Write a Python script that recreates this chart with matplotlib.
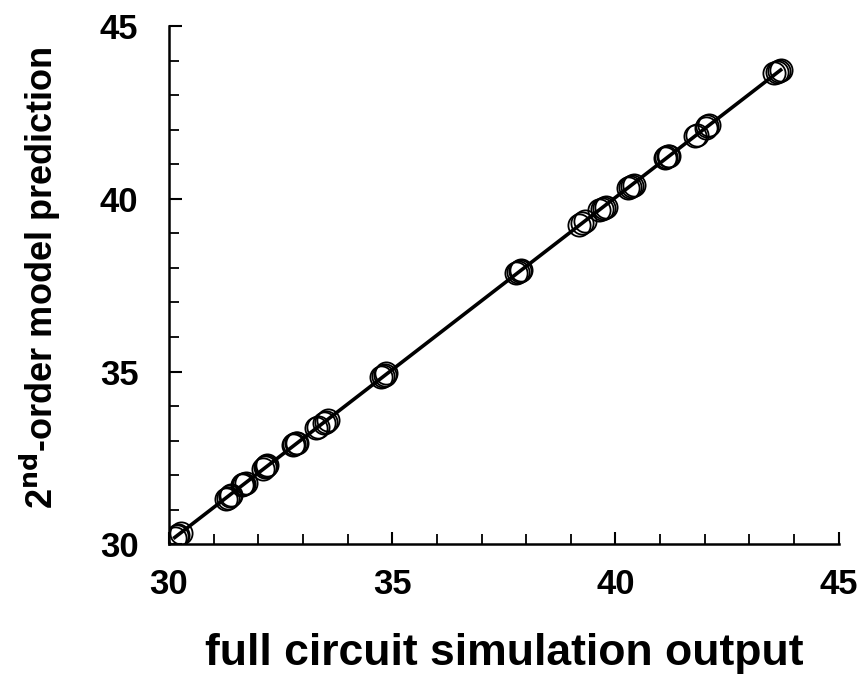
import numpy as np
from matplotlib import pyplot as plt
from matplotlib.ticker import MultipleLocator

plt.rcParams['font.family'] = ['Liberation Sans', 'DejaVu Sans']
plt.rcParams['font.weight'] = 'bold'

# full circuit simulation output vs 2nd-order model prediction
sim = [30.13, 30.17, 30.21, 30.26,
       31.28, 31.32, 31.36, 31.40,
       31.63, 31.66, 31.69, 31.72,
       32.10, 32.14, 32.17, 32.20,
       32.78, 32.81, 32.84, 32.86,
       33.29, 33.34, 33.48, 33.52, 33.56,
       34.76, 34.80, 34.84, 34.87,
       37.78, 37.82, 37.86, 37.89,
       39.19, 39.26, 39.32,
       39.64, 39.69, 39.74, 39.79,
       40.28, 40.33, 40.38, 40.42,
       41.10, 41.14, 41.18, 41.21,
       41.77, 41.83, 42.02, 42.06, 42.10,
       43.56, 43.61, 43.66, 43.70]
pred = [30.19, 30.23, 30.27, 30.31,
        31.32, 31.35, 31.38, 31.41,
        31.71, 31.73, 31.75, 31.77,
        32.19, 32.22, 32.26, 32.29,
        32.87, 32.89, 32.92, 32.94,
        33.35, 33.39, 33.50, 33.55, 33.59,
        34.83, 34.87, 34.91, 34.95,
        37.85, 37.88, 37.91, 37.94,
        39.25, 39.30, 39.35,
        39.68, 39.71, 39.75, 39.78,
        40.31, 40.34, 40.38, 40.41,
        41.18, 41.21, 41.23, 41.25,
        41.81, 41.86, 42.06, 42.10, 42.14,
        43.64, 43.67, 43.71, 43.74]

sim = np.array(sim)
pred = np.array(pred)

fig = plt.figure(figsize=(8.62, 6.94), dpi=100)
ax = fig.add_axes([0.196, 0.216, 0.777, 0.746])

coef = np.polyfit(sim, pred, 1)
xl = np.array([sim.min(), sim.max()])
ax.plot(xl, np.polyval(coef, xl), color='black', lw=2.6, zorder=3)
ax.plot(sim, pred, 'o', ms=16, mfc='none', mec='black', mew=1.3, zorder=2)

ax.set_xlim(30, 45)
ax.set_ylim(30, 45)
ax.xaxis.set_major_locator(MultipleLocator(5))
ax.yaxis.set_major_locator(MultipleLocator(5))
ax.xaxis.set_minor_locator(MultipleLocator(1))
ax.yaxis.set_minor_locator(MultipleLocator(1))

for s in ['top', 'right']:
    ax.spines[s].set_visible(False)
for s in ['left', 'bottom']:
    ax.spines[s].set_linewidth(1.8)
    ax.spines[s].set_clip_on(False)

ax.tick_params(which='major', direction='in', length=9, width=1.5,
               labelsize=25)
ax.tick_params(which='minor', direction='in', length=7, width=1.3)
ax.tick_params(axis='x', which='major', pad=17)
ax.tick_params(axis='y', which='major', pad=22)
for lab in ax.get_xticklabels() + ax.get_yticklabels():
    lab.set_fontweight('bold')

ax.set_xlabel('full circuit simulation output', fontsize=32,
              fontweight='bold')
ax.set_ylabel(r'2$^{\mathbf{nd}}$-order model prediction', fontsize=26,
              fontweight='bold')
ax.xaxis.set_label_coords(0.5, -0.172)
ax.yaxis.set_label_coords(-0.158, 0.515)

fig.savefig('out.png', dpi=100)
